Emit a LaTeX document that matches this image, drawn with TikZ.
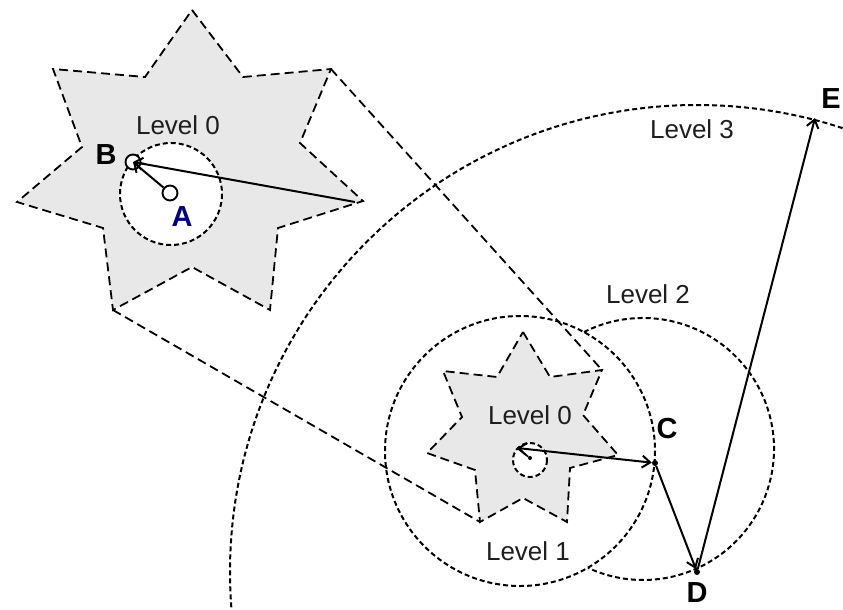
\documentclass[tikz,border=0pt]{standalone}
\usepackage{fontspec}
\setmainfont{Liberation Sans}
\usepackage{xcolor}
\usepackage{tikz}
\usetikzlibrary{arrows.meta, positioning}
\definecolor{starfill}{RGB}{232,232,232}
\definecolor{labelnavy}{RGB}{0,0,128}
\definecolor{textgray}{RGB}{30,30,30}
\tikzset{
    starshape/.style={draw=black, fill=starfill, dash pattern=on 9pt off 5pt, line width=1.8pt, line join=miter},
    zoomline/.style={draw=black, dash pattern=on 9pt off 5pt, line width=1.8pt},
    levelring/.style={draw=black, dash pattern=on 5pt off 3pt, line width=2pt},
    ptring/.style={circle, draw=black, fill=white, line width=1.9pt, minimum size=15pt, inner sep=0pt},
    ptdot/.style={circle, fill=black, minimum size=6pt, inner sep=0pt},
    hoparrow/.style={-{Straight Barb[length=8pt,width=12pt]}, line width=2pt},
    levellabel/.style={font=\fontsize{26}{28}\selectfont, text=textgray, inner sep=0pt},
    ptlabel/.style={font=\fontsize{29}{31}\selectfont\bfseries, inner sep=0pt}
}

\begin{document}
\begin{tikzpicture}[x=1pt, y=-1pt]
\useasboundingbox (0,0) rectangle (843,610);
\clip (0,0) rectangle (843,610);

% points of the walk
\node[ptdot] (D) at (697,572) {};
\node[ptdot] (C) at (655,463) {};
\coordinate (E) at (815,118);

% level 3 ring round D
\draw[levelring] (D) circle[radius=467];

% magnified star
\draw[starshape] (192,10) -- (243,77) -- (331,69) -- (300,143) -- (363,201) -- (278,228)
    -- (270,310) -- (192,267) -- (113,310) -- (103,228) -- (17,202) -- (82,147)
    -- (53,69) -- (145,77) -- cycle;
\draw[zoomline] (331,69) -- (602,370);
\draw[zoomline] (113,310) -- (480,522);
\draw[levelring, fill=white] (171,194) circle[radius=51];

% star in place
\draw[starshape] (523,332) -- (550,377) -- (602,370) -- (583,415) -- (618,455) -- (570,468)
    -- (567,522) -- (523,498) -- (480,522) -- (475,470) -- (427,453) -- (462,417)
    -- (443,371) -- (497,377) -- cycle;
\draw[levelring, fill=white] (530,460) circle[radius=17];
\draw[levelring] (520,451) circle[radius=135];
% level 2 only outside level 1
\draw[levelring] (643,449) ++(-116.8:131) arc[start angle=-116.8, end angle=114.8, radius=131];

\node[ptring] (A) at (170,193) {};
\node[ptring] (B) at (133,162) {};
\coordinate (bigtip) at (355,202);
\node[circle, fill=black, minimum size=4pt, inner sep=0pt] (a0) at (530,458) {};
\coordinate (b0) at (517,448);

\draw[hoparrow] (A) -- (B.center);
\draw[hoparrow] (bigtip) -- (B.center);
\draw[line width=1.6pt] (a0) -- (b0);
\draw[hoparrow, {Straight Barb[length=8pt,width=12pt]}-{Straight Barb[length=8pt,width=12pt]}] (b0) -- (C);
\draw[hoparrow] (C) -- (D);
\draw[hoparrow] (D) -- (E);

% labels
\node[levellabel] (lvlzero) at (178,125) {Level 0};
\node[levellabel] (lvlzerosmall) at (530,415) {Level 0};
\node[levellabel] (lvlone) at (528,551) {Level 1};
\node[levellabel] (lvltwo) at (648,294) {Level 2};
\node[levellabel] (lvlthree) at (692,129) {Level 3};
\node[ptlabel, text=labelnavy] (labA) at (182,217) {A};
\node[ptlabel] (labB) at (106,155) {B};
\node[ptlabel] (labC) at (667,429) {C};
\node[ptlabel] (labD) at (697,593) {D};
\node[ptlabel] (labE) at (831,99) {E};

\end{tikzpicture}
\end{document}
